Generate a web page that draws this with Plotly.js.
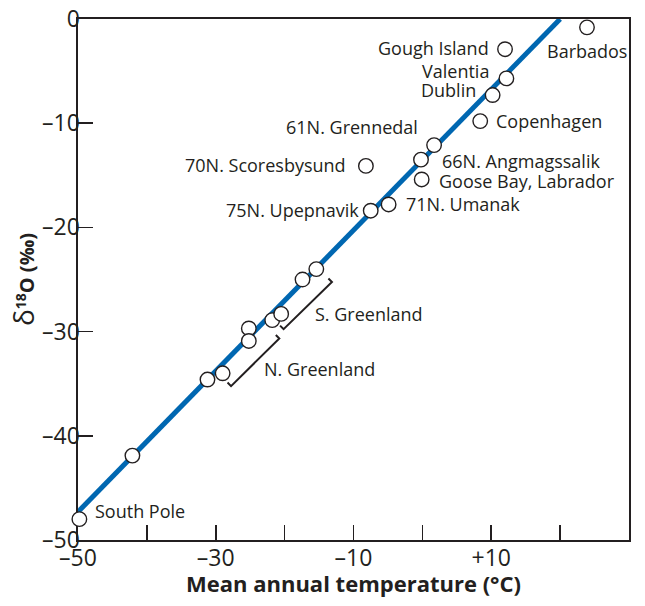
<!DOCTYPE html>
<html>
<head>
<meta charset="utf-8">
<script src="https://cdn.plot.ly/plotly-3.0.1.min.js"></script>
<style>
  html, body { margin: 0; padding: 0; background: #ffffff; }
  #chart { width: 645px; height: 606px; }
</style>
</head>
<body>
<div id="chart"></div>
<script>
// Named stations: mean annual temperature (°C) and δ18O (‰)
const stationNames = [
  'South Pole', 'Barbados', 'Gough Island', 'Valentia', 'Dublin', 'Copenhagen',
  '61N. Grennedal', '66N. Angmagssalik', 'Goose Bay, Labrador', '71N. Umanak',
  '75N. Upepnavik', '70N. Scoresbysund'
];
const stationTemp = [-49.8, 23.9, 12.0, 12.2, 10.2, 8.4, 1.7, -0.2, -0.1, -4.9, -7.5, -8.2];
const stationD18O = [-48.0, -0.8, -2.9, -5.7, -7.3, -9.8, -12.1, -13.5, -15.4, -17.8, -18.4, -14.1];

// Unlabelled Antarctic / Greenland ice-sheet sites
const iceTemp = [-42.1, -31.2, -29.0, -25.2, -25.2, -21.8, -20.5, -17.4, -15.4];
const iceD18O = [-41.9, -34.6, -34.0, -29.7, -30.9, -28.9, -28.3, -25.0, -24.0];

// Fitted relation, drawn between its two end points
const fitTemp = [-50, 20];
const fitD18O = [-47.3, 0];

// Brackets grouping the Greenland sites
const sGreenlandX = [-20.66, -20.15, -13.13, -13.64];
const sGreenlandY = [-29.43, -29.77, -25.24, -24.90];
const nGreenlandX = [-28.29, -27.78, -20.77, -21.28];
const nGreenlandY = [-34.89, -35.23, -30.66, -30.32];

// Axis ticks and labels (unlabelled x ticks come from the minor ticks)
const xTickVals = [-50, -30, -10, 10, 30];
const xTickText = ['\u201350', '\u201330', '\u201310', '+10', '+30'];
const yTickVals = [-50, -40, -30, -20, -10, 0];
const yTickText = ['\u201350', '\u201340', '\u201330', '\u201320', '\u201310', '0'];

const INK = '#231f20';
const BLUE = '#0067b1';
const FONT = 'Open Sans, Noto Sans, DejaVu Sans, sans-serif';
const LABEL_SIZE = 18;

// Label placement for each station, in pixels from its marker
const labelPlace = {
  'South Pole':          {xanchor: 'left',  xshift: 14,  yshift: 8},
  'Barbados':            {xanchor: 'left',  xshift: -42, yshift: -24},
  'Gough Island':        {xanchor: 'right', xshift: -14, yshift: 1},
  'Valentia':            {xanchor: 'right', xshift: -15, yshift: 7},
  'Dublin':              {xanchor: 'right', xshift: -15, yshift: 5},
  'Copenhagen':          {xanchor: 'left',  xshift: 14,  yshift: 0},
  '61N. Grennedal':      {xanchor: 'right', xshift: -14, yshift: 18},
  '66N. Angmagssalik':   {xanchor: 'left',  xshift: 19,  yshift: -1},
  'Goose Bay, Labrador': {xanchor: 'left',  xshift: 15,  yshift: -2},
  '71N. Umanak':         {xanchor: 'left',  xshift: 15,  yshift: 0},
  '75N. Upepnavik':      {xanchor: 'right', xshift: -10, yshift: 1},
  '70N. Scoresbysund':   {xanchor: 'right', xshift: -18, yshift: 1}
};

const markerStyle = {
  symbol: 'circle', size: 14.5, color: '#ffffff',
  line: {color: INK, width: 1.4}
};

const traces = [
  {
    x: fitTemp, y: fitD18O, mode: 'lines', type: 'scatter',
    line: {color: BLUE, width: 5}, hoverinfo: 'skip'
  },
  {
    x: sGreenlandX, y: sGreenlandY, mode: 'lines', type: 'scatter',
    line: {color: INK, width: 2}, hoverinfo: 'skip'
  },
  {
    x: nGreenlandX, y: nGreenlandY, mode: 'lines', type: 'scatter',
    line: {color: INK, width: 2}, hoverinfo: 'skip'
  },
  {
    x: iceTemp, y: iceD18O, mode: 'markers', type: 'scatter',
    marker: markerStyle, cliponaxis: false
  },
  {
    x: stationTemp, y: stationD18O, text: stationNames, mode: 'markers', type: 'scatter',
    marker: markerStyle, cliponaxis: false
  }
];

const annotations = stationNames.map((name, i) => Object.assign({
  x: stationTemp[i], y: stationD18O[i], text: name, showarrow: false,
  yanchor: 'middle', font: {family: FONT, size: LABEL_SIZE, color: INK}
}, labelPlace[name]));

annotations.push(
  {x: -15.84, y: -28.33, text: 'S. Greenland', showarrow: false,
   xanchor: 'left', yanchor: 'middle', font: {family: FONT, size: LABEL_SIZE, color: INK}},
  {x: -23.28, y: -33.6, text: 'N. Greenland', showarrow: false,
   xanchor: 'left', yanchor: 'middle', font: {family: FONT, size: LABEL_SIZE, color: INK}},
  // x-axis title, set just below the tick labels
  {xref: 'paper', yref: 'paper', x: 0.5, y: -0.083, showarrow: false,
   xanchor: 'center', yanchor: 'middle',
   text: '<b>Mean annual temperature (°C)</b>',
   font: {family: FONT, size: 22, color: INK}}
);

const axisCommon = {
  showgrid: false, zeroline: false,
  showline: true, linecolor: INK, linewidth: 1.6, mirror: true,
  ticks: 'inside', ticklen: 15, tickwidth: 1.6, tickcolor: INK,
  tickfont: {family: FONT, size: 23, color: INK},
  tickmode: 'array', layer: 'below traces', fixedrange: true
};

const layout = {
  width: 645, height: 606,
  margin: {l: 78, r: 16, t: 19, b: 66, pad: 0},
  paper_bgcolor: '#ffffff', plot_bgcolor: '#ffffff',
  showlegend: false,
  font: {family: FONT, color: INK},
  xaxis: Object.assign({}, axisCommon, {
    range: [-50, 30], tickvals: xTickVals, ticktext: xTickText,
    ticklabelstandoff: -3,
    minor: {tickmode: 'linear', tick0: 0, dtick: 10, ticks: 'inside',
            ticklen: 15, tickwidth: 1.6, tickcolor: INK, showgrid: false}
  }),
  yaxis: Object.assign({}, axisCommon, {
    range: [-50, 0], tickvals: yTickVals, ticktext: yTickText,
    ticklabelstandoff: -8,
    title: {text: '<span style="font-size:28px">δ</span><b><sup>18</sup>O (‰)</b>',
            font: {family: FONT, size: 20, color: INK}, standoff: 0}
  }),
  annotations: annotations
};

Plotly.newPlot('chart', traces, layout, {displayModeBar: false, staticPlot: true});
</script>
</body>
</html>
